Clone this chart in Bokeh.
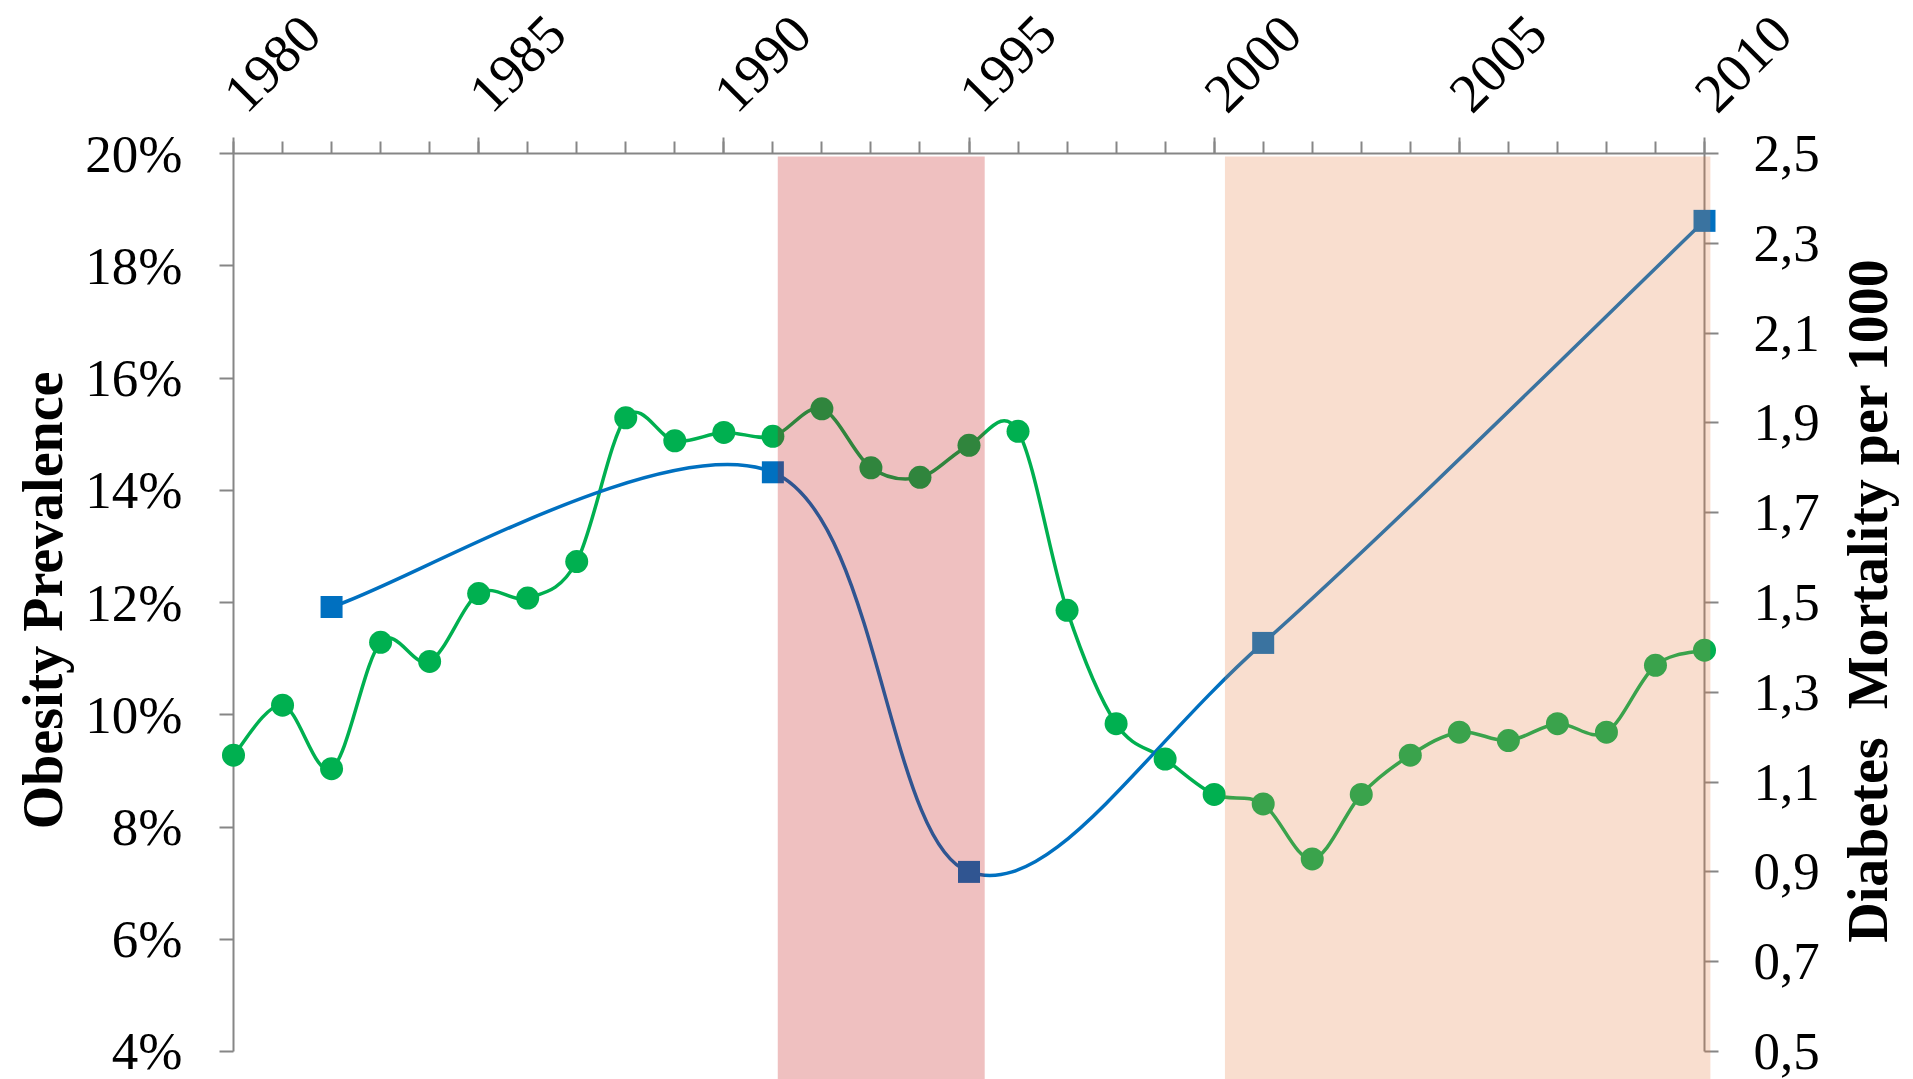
import math

from bokeh.plotting import figure
from bokeh.models import (Range1d, LinearAxis, SingleIntervalTicker, FixedTicker,
                          PrintfTickFormatter, Label)
from bokeh.embed import file_html
from bokeh.resources import INLINE

# ---------------------------------------------------------------- data
years = list(range(1980, 2011))
obesity_pct = [9.28, 10.17, 9.04, 11.29, 10.95, 12.16, 12.08, 12.73, 15.29, 14.88,
               15.03, 14.96, 15.45, 14.40, 14.23, 14.80, 15.05, 11.86, 9.84, 9.21,
               8.58, 8.41, 7.43, 8.58, 9.28, 9.69, 9.54, 9.84, 9.69, 10.88, 11.15]

mortality_years = [1982, 1991, 1995, 2001, 2010]
mortality_per_1000 = [1.49, 1.79, 0.90, 1.41, 2.35]

year_ticks = [1980, 1985, 1990, 1995, 2000, 2005, 2010]
pct_ticks = [4, 6, 8, 10, 12, 14, 16, 18, 20]
mort_ticks = [0.5, 0.7, 0.9, 1.1, 1.3, 1.5, 1.7, 1.9, 2.1, 2.3, 2.5]
mort_tick_labels = ["0,5", "0,7", "0,9", "1,1", "1,3", "1,5", "1,7", "1,9", "2,1", "2,3", "2,5"]

# highlighted periods (start year, end year)
period_starts = [1991.1, 2000.22]
period_ends = [1995.32, 2010.12]
period_colors = ["#BE0303", "#E87C40"]

# ---------------------------------------------------------------- layout
W, H = 1913, 1079
X_LEFT_PX, X_RIGHT_PX = 233, 1704      # where 1980 and 2010 sit
Y_TOP_PX, Y_BOT_PX = 153, 1051          # where the top/bottom of the scales sit
YEAR_MIN, YEAR_MAX = 1980, 2010
PCT_MIN, PCT_MAX = 4, 20
MORT_MIN, MORT_MAX = 0.5, 2.5

px_per_year = (X_RIGHT_PX - X_LEFT_PX) / (YEAR_MAX - YEAR_MIN)
px_per_pct = (Y_BOT_PX - Y_TOP_PX) / (PCT_MAX - PCT_MIN)
px_per_mort = (Y_BOT_PX - Y_TOP_PX) / (MORT_MAX - MORT_MIN)

x_range = Range1d(YEAR_MIN - X_LEFT_PX / px_per_year,
                  YEAR_MAX + (W - X_RIGHT_PX) / px_per_year)
y_range = Range1d(PCT_MIN - (H - Y_BOT_PX) / px_per_pct,
                  PCT_MAX + Y_TOP_PX / px_per_pct)
right_range = Range1d(MORT_MIN - (H - Y_BOT_PX) / px_per_mort,
                      MORT_MAX + Y_TOP_PX / px_per_mort)

p = figure(width=W, height=H, x_range=x_range, y_range=y_range,
           x_axis_location=None, y_axis_location=None,
           toolbar_location=None, output_backend="svg",
           min_border=0, outline_line_color=None,
           background_fill_color="white", border_fill_color="white")
p.extra_y_ranges = {"mort": right_range}
p.grid.visible = False

FONT = "Liberation Serif"
AXIS_GRAY = "#868686"


def style_axis(ax, size):
    ax.axis_line_color = AXIS_GRAY
    ax.axis_line_width = 2
    ax.major_tick_line_color = AXIS_GRAY
    ax.major_tick_line_width = 2
    ax.minor_tick_line_color = AXIS_GRAY
    ax.minor_tick_line_width = 2
    ax.major_tick_in = 0
    ax.minor_tick_in = 0
    ax.major_label_text_font = FONT
    ax.major_label_text_font_size = size
    ax.major_label_text_color = "black"


# top year axis
top_axis = LinearAxis(ticker=SingleIntervalTicker(interval=5, num_minor_ticks=5),
                      fixed_location=PCT_MAX, bounds=(YEAR_MIN, YEAR_MAX))
style_axis(top_axis, "55px")
top_axis.major_tick_out = 16
top_axis.minor_tick_out = 12
top_axis.major_label_orientation = math.pi / 4
top_axis.major_label_standoff = 35
p.add_layout(top_axis, "above")

# left obesity axis
left_axis = LinearAxis(ticker=FixedTicker(ticks=pct_ticks),
                       formatter=PrintfTickFormatter(format="%d%%"),
                       fixed_location=YEAR_MIN, bounds=(PCT_MIN, PCT_MAX))
style_axis(left_axis, "53px")
left_axis.major_tick_out = 14
left_axis.minor_tick_line_color = None
left_axis.major_label_standoff = 37
p.add_layout(left_axis, "left")

# right mortality axis
right_axis = LinearAxis(y_range_name="mort", ticker=FixedTicker(ticks=mort_ticks),
                        fixed_location=YEAR_MAX, bounds=(MORT_MIN, MORT_MAX))
right_axis.major_label_overrides = dict(zip(mort_ticks, mort_tick_labels))
style_axis(right_axis, "53px")
right_axis.major_tick_out = 14
right_axis.minor_tick_line_color = None
right_axis.major_label_standoff = 35
p.add_layout(right_axis, "right")


# ---------------------------------------------------------------- smooth lines
def smooth_segments(xs, ys):
    """Cubic Bezier segments through the points (Catmull-Rom style tangents)."""
    n = len(xs)
    seg = {k: [] for k in ("x0", "y0", "x1", "y1", "cx0", "cy0", "cx1", "cy1")}
    for i in range(n - 1):
        xa, ya = (xs[i - 1], ys[i - 1]) if i > 0 else (xs[i], ys[i])
        xb, yb = (xs[i + 2], ys[i + 2]) if i + 2 < n else (xs[i + 1], ys[i + 1])
        seg["x0"].append(xs[i])
        seg["y0"].append(ys[i])
        seg["x1"].append(xs[i + 1])
        seg["y1"].append(ys[i + 1])
        seg["cx0"].append(xs[i] + (xs[i + 1] - xa) / 6)
        seg["cy0"].append(ys[i] + (ys[i + 1] - ya) / 6)
        seg["cx1"].append(xs[i + 1] - (xb - xs[i]) / 6)
        seg["cy1"].append(ys[i + 1] - (yb - ys[i]) / 6)
    return seg


GREEN = "#00B050"
BLUE = "#0070C0"

p.bezier(**smooth_segments(years, obesity_pct), line_color=GREEN, line_width=3.5,
         level="annotation")
p.bezier(**smooth_segments(mortality_years, mortality_per_1000), line_color=BLUE,
         line_width=3.5, y_range_name="mort", level="annotation")

p.scatter(years, obesity_pct, marker="circle", size=23, fill_color=GREEN,
          line_color=None, level="annotation")
p.scatter(mortality_years, mortality_per_1000, marker="square", size=22,
          fill_color=BLUE, line_color=None, y_range_name="mort", level="annotation")

# translucent period bands laid over everything
band_top = PCT_MAX - 3 / px_per_pct
p.quad(left=period_starts, right=period_ends, top=band_top, bottom=y_range.start,
       fill_color=period_colors, fill_alpha=0.25, line_color=None, level="overlay")

# ---------------------------------------------------------------- axis titles
TITLE_Y = H - 600
p.add_layout(Label(x=42, y=TITLE_Y, x_units="screen", y_units="screen",
                   text="Obesity Prevalence", angle=math.pi / 2,
                   text_align="center", text_baseline="middle",
                   text_font=FONT, text_font_style="bold", text_font_size="56px",
                   text_color="black"))
p.add_layout(Label(x=1867, y=TITLE_Y, x_units="screen", y_units="screen",
                   text="Diabetes \u00a0Mortality per 1000", angle=math.pi / 2,
                   text_align="center", text_baseline="middle",
                   text_font=FONT, text_font_style="bold", text_font_size="56px",
                   text_color="black"))

open("out.html", "w").write(file_html(p, INLINE))
